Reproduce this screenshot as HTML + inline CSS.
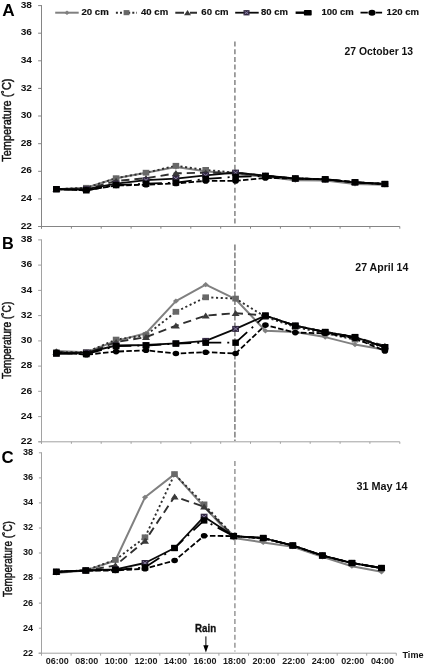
<!DOCTYPE html>
<html lang="en"><head><meta charset="utf-8"><title>Soil temperature profiles</title>
<style>html,body{margin:0;padding:0;background:#fff}body{width:425px;height:665px;overflow:hidden}svg{display:block;will-change:transform}text{font-family:"Liberation Sans",Arial,sans-serif}.b{font-weight:bold}.yl{font-weight:bold;fill:#111}.xl{font-size:9.6px;font-weight:bold;fill:#1a1a1a}.lg{font-size:8.5px;font-weight:bold;fill:#111;stroke:#111;stroke-width:0.15px}.dt{font-size:10.3px;font-weight:bold;fill:#111}.pl{font-weight:bold;fill:#000}.yt{font-size:12px;fill:#111;stroke:#111;stroke-width:0.45px}</style></head><body>
<svg width="425" height="665" viewBox="0 0 425 665">
<rect width="425" height="665" fill="#fff"/>
<g id="panelA">
<path d="M41.5 5.1V228.5" stroke="#858585" stroke-width="1" fill="none"/>
<path d="M38.5 226.5H399.8" stroke="#858585" stroke-width="1" fill="none"/>
<path d="M38.1 5.6H41.5M38.1 33.2H41.5M38.1 60.8H41.5M38.1 88.4H41.5M38.1 116.0H41.5M38.1 143.7H41.5M38.1 171.3H41.5M38.1 198.9H41.5M38.1 226.5H41.5" stroke="#858585" stroke-width="1" fill="none"/>
<path d="M41.5 226.5v2.2M71.4 226.5v2.2M101.2 226.5v2.2M131.1 226.5v2.2M160.9 226.5v2.2M190.8 226.5v2.2M220.7 226.5v2.2M250.5 226.5v2.2M280.4 226.5v2.2M310.2 226.5v2.2M340.1 226.5v2.2M369.9 226.5v2.2M399.8 226.5v2.2" stroke="#858585" stroke-width="1" fill="none"/>
<text class="yl" x="20.7" y="7.7" font-size="9.2" textLength="11.3" lengthAdjust="spacingAndGlyphs">38</text>
<text class="yl" x="20.7" y="35.3" font-size="9.2" textLength="11.3" lengthAdjust="spacingAndGlyphs">36</text>
<text class="yl" x="20.7" y="62.9" font-size="9.2" textLength="11.3" lengthAdjust="spacingAndGlyphs">34</text>
<text class="yl" x="20.7" y="90.5" font-size="9.2" textLength="11.3" lengthAdjust="spacingAndGlyphs">32</text>
<text class="yl" x="20.7" y="118.1" font-size="9.2" textLength="11.3" lengthAdjust="spacingAndGlyphs">30</text>
<text class="yl" x="20.7" y="145.8" font-size="9.2" textLength="11.3" lengthAdjust="spacingAndGlyphs">28</text>
<text class="yl" x="20.7" y="173.4" font-size="9.2" textLength="11.3" lengthAdjust="spacingAndGlyphs">26</text>
<text class="yl" x="20.7" y="201.0" font-size="9.2" textLength="11.3" lengthAdjust="spacingAndGlyphs">24</text>
<text class="yl" x="20.7" y="228.6" font-size="9.2" textLength="11.3" lengthAdjust="spacingAndGlyphs">22</text>
<text class="yt" transform="translate(11.3 161.7) rotate(-90)" textLength="83.2" lengthAdjust="spacingAndGlyphs">Temperature (˚C)</text>
<path d="M234.9 41.5V226" stroke="#8c8c8c" stroke-width="1.6" stroke-dasharray="5 2.7" fill="none"/>
<path d="M56.4 189.2L86.3 187.8L116.1 178.2L146.0 172.7L175.9 167.1L205.7 171.3L235.6 174.0L265.4 176.8L295.3 180.2L325.2 180.5L355.0 184.0L384.9 184.8" stroke="#808080" stroke-width="2.0" fill="none" stroke-linejoin="round"/>
<path d="M56.4 186.6L59.4 189.2L56.4 191.8L53.4 189.2Z" fill="#7f7f7f"/>
<path d="M86.3 185.2L89.3 187.8L86.3 190.4L83.3 187.8Z" fill="#7f7f7f"/>
<path d="M116.1 175.6L119.1 178.2L116.1 180.8L113.1 178.2Z" fill="#7f7f7f"/>
<path d="M146.0 170.1L149.0 172.7L146.0 175.3L143.0 172.7Z" fill="#7f7f7f"/>
<path d="M175.9 164.5L178.9 167.1L175.9 169.7L172.9 167.1Z" fill="#7f7f7f"/>
<path d="M205.7 168.7L208.7 171.3L205.7 173.9L202.7 171.3Z" fill="#7f7f7f"/>
<path d="M235.6 171.4L238.6 174.0L235.6 176.6L232.6 174.0Z" fill="#7f7f7f"/>
<path d="M265.4 174.2L268.4 176.8L265.4 179.4L262.4 176.8Z" fill="#7f7f7f"/>
<path d="M295.3 177.6L298.3 180.2L295.3 182.8L292.3 180.2Z" fill="#7f7f7f"/>
<path d="M325.2 177.9L328.2 180.5L325.2 183.1L322.2 180.5Z" fill="#7f7f7f"/>
<path d="M355.0 181.4L358.0 184.0L355.0 186.6L352.0 184.0Z" fill="#7f7f7f"/>
<path d="M384.9 182.2L387.9 184.8L384.9 187.4L381.9 184.8Z" fill="#7f7f7f"/>
<path d="M56.4 189.2L86.3 187.8L116.1 178.2L146.0 172.7L175.9 165.8L205.7 169.9L235.6 172.7L265.4 176.1L295.3 178.5L325.2 179.3L355.0 182.3L384.9 184.0" stroke="#2e2e2e" stroke-width="1.9" stroke-dasharray="2.1 2.6" fill="none" stroke-linejoin="round"/>
<rect x="53.1" y="186.3" width="6.6" height="5.8" fill="#686868"/>
<rect x="83.0" y="184.9" width="6.6" height="5.8" fill="#686868"/>
<rect x="112.8" y="175.3" width="6.6" height="5.8" fill="#686868"/>
<rect x="142.7" y="169.8" width="6.6" height="5.8" fill="#686868"/>
<rect x="172.6" y="162.9" width="6.6" height="5.8" fill="#686868"/>
<rect x="202.4" y="167.0" width="6.6" height="5.8" fill="#686868"/>
<rect x="232.3" y="169.8" width="6.6" height="5.8" fill="#686868"/>
<rect x="262.1" y="173.2" width="6.6" height="5.8" fill="#686868"/>
<rect x="292.0" y="175.6" width="6.6" height="5.8" fill="#686868"/>
<rect x="321.9" y="176.4" width="6.6" height="5.8" fill="#686868"/>
<rect x="351.7" y="179.4" width="6.6" height="5.8" fill="#686868"/>
<rect x="381.6" y="181.1" width="6.6" height="5.8" fill="#686868"/>
<path d="M56.4 189.2L86.3 189.2L116.1 180.9L146.0 178.2L175.9 173.3L205.7 172.7L235.6 172.7L265.4 175.7L295.3 178.5L325.2 179.3L355.0 182.3L384.9 184.0" stroke="#2f2f2f" stroke-width="1.9" stroke-dasharray="8.2 5" fill="none" stroke-linejoin="round"/>
<path d="M56.4 186.0L60.4 192.0L52.4 192.0Z" fill="#3a3a3a"/>
<path d="M86.3 186.0L90.3 192.0L82.3 192.0Z" fill="#3a3a3a"/>
<path d="M116.1 177.7L120.1 183.7L112.1 183.7Z" fill="#3a3a3a"/>
<path d="M146.0 175.0L150.0 181.0L142.0 181.0Z" fill="#3a3a3a"/>
<path d="M175.9 170.1L179.9 176.1L171.9 176.1Z" fill="#3a3a3a"/>
<path d="M205.7 169.5L209.7 175.5L201.7 175.5Z" fill="#3a3a3a"/>
<path d="M235.6 169.5L239.6 175.5L231.6 175.5Z" fill="#3a3a3a"/>
<path d="M265.4 172.5L269.4 178.5L261.4 178.5Z" fill="#3a3a3a"/>
<path d="M295.3 175.3L299.3 181.3L291.3 181.3Z" fill="#3a3a3a"/>
<path d="M325.2 176.1L329.2 182.1L321.2 182.1Z" fill="#3a3a3a"/>
<path d="M355.0 179.1L359.0 185.1L351.0 185.1Z" fill="#3a3a3a"/>
<path d="M384.9 180.8L388.9 186.8L380.9 186.8Z" fill="#3a3a3a"/>
<path d="M56.4 189.2L86.3 189.2L116.1 183.7L146.0 180.2L175.9 178.6L205.7 175.4L235.6 172.7L265.4 175.7L295.3 178.5L325.2 179.3L355.0 182.3L384.9 184.0" stroke="#0a0a0a" stroke-width="1.8" fill="none" stroke-linejoin="round"/>
<rect x="53.0" y="186.2" width="6.8" height="6.0" fill="#30263f"/><path d="M54.2 187.4L58.6 191.0M58.6 187.4L54.2 191.0" stroke="#8f86aa" stroke-width="0.9" fill="none"/>
<rect x="82.9" y="186.2" width="6.8" height="6.0" fill="#30263f"/><path d="M84.1 187.4L88.5 191.0M88.5 187.4L84.1 191.0" stroke="#8f86aa" stroke-width="0.9" fill="none"/>
<rect x="112.7" y="180.7" width="6.8" height="6.0" fill="#30263f"/><path d="M113.9 181.9L118.3 185.5M118.3 181.9L113.9 185.5" stroke="#8f86aa" stroke-width="0.9" fill="none"/>
<rect x="142.6" y="177.2" width="6.8" height="6.0" fill="#30263f"/><path d="M143.8 178.4L148.2 182.0M148.2 178.4L143.8 182.0" stroke="#8f86aa" stroke-width="0.9" fill="none"/>
<rect x="172.5" y="175.6" width="6.8" height="6.0" fill="#30263f"/><path d="M173.7 176.8L178.1 180.4M178.1 176.8L173.7 180.4" stroke="#8f86aa" stroke-width="0.9" fill="none"/>
<rect x="202.3" y="172.4" width="6.8" height="6.0" fill="#30263f"/><path d="M203.5 173.6L207.9 177.2M207.9 173.6L203.5 177.2" stroke="#8f86aa" stroke-width="0.9" fill="none"/>
<rect x="232.2" y="169.7" width="6.8" height="6.0" fill="#30263f"/><path d="M233.4 170.9L237.8 174.5M237.8 170.9L233.4 174.5" stroke="#8f86aa" stroke-width="0.9" fill="none"/>
<rect x="262.0" y="172.7" width="6.8" height="6.0" fill="#30263f"/><path d="M263.2 173.9L267.6 177.5M267.6 173.9L263.2 177.5" stroke="#8f86aa" stroke-width="0.9" fill="none"/>
<rect x="291.9" y="175.5" width="6.8" height="6.0" fill="#30263f"/><path d="M293.1 176.7L297.5 180.3M297.5 176.7L293.1 180.3" stroke="#8f86aa" stroke-width="0.9" fill="none"/>
<rect x="321.8" y="176.3" width="6.8" height="6.0" fill="#30263f"/><path d="M323.0 177.5L327.4 181.1M327.4 177.5L323.0 181.1" stroke="#8f86aa" stroke-width="0.9" fill="none"/>
<rect x="351.6" y="179.3" width="6.8" height="6.0" fill="#30263f"/><path d="M352.8 180.5L357.2 184.1M357.2 180.5L352.8 184.1" stroke="#8f86aa" stroke-width="0.9" fill="none"/>
<rect x="381.5" y="181.0" width="6.8" height="6.0" fill="#30263f"/><path d="M382.7 182.2L387.1 185.8M387.1 182.2L382.7 185.8" stroke="#8f86aa" stroke-width="0.9" fill="none"/>
<path d="M56.4 189.2L86.3 190.3L116.1 185.1L146.0 183.7L175.9 182.6L205.7 178.9L235.6 176.8L265.4 176.0L295.3 178.5L325.2 179.3L355.0 182.3L384.9 184.0" stroke="#000000" stroke-width="1.8" stroke-dasharray="16 6 2 6" fill="none" stroke-linejoin="round"/>
<rect x="53.1" y="186.0" width="6.6" height="6.4" fill="#000"/>
<rect x="83.0" y="187.1" width="6.6" height="6.4" fill="#000"/>
<rect x="112.8" y="181.9" width="6.6" height="6.4" fill="#000"/>
<rect x="142.7" y="180.5" width="6.6" height="6.4" fill="#000"/>
<rect x="172.6" y="179.4" width="6.6" height="6.4" fill="#000"/>
<rect x="202.4" y="175.7" width="6.6" height="6.4" fill="#000"/>
<rect x="232.3" y="173.6" width="6.6" height="6.4" fill="#000"/>
<rect x="262.1" y="172.8" width="6.6" height="6.4" fill="#000"/>
<rect x="292.0" y="175.3" width="6.6" height="6.4" fill="#000"/>
<rect x="321.9" y="176.1" width="6.6" height="6.4" fill="#000"/>
<rect x="351.7" y="179.1" width="6.6" height="6.4" fill="#000"/>
<rect x="381.6" y="180.8" width="6.6" height="6.4" fill="#000"/>
<path d="M56.4 189.2L86.3 190.3L116.1 185.5L146.0 184.7L175.9 183.4L205.7 180.9L235.6 180.9L265.4 177.9L295.3 178.5L325.2 179.3L355.0 182.3L384.9 184.0" stroke="#000000" stroke-width="1.8" stroke-dasharray="5.5 2.3" fill="none" stroke-linejoin="round"/>
<ellipse cx="56.4" cy="189.2" rx="3.3" ry="2.8" fill="#000"/>
<ellipse cx="86.3" cy="190.3" rx="3.3" ry="2.8" fill="#000"/>
<ellipse cx="116.1" cy="185.5" rx="3.3" ry="2.8" fill="#000"/>
<ellipse cx="146.0" cy="184.7" rx="3.3" ry="2.8" fill="#000"/>
<ellipse cx="175.9" cy="183.4" rx="3.3" ry="2.8" fill="#000"/>
<ellipse cx="205.7" cy="180.9" rx="3.3" ry="2.8" fill="#000"/>
<ellipse cx="235.6" cy="180.9" rx="3.3" ry="2.8" fill="#000"/>
<ellipse cx="265.4" cy="177.9" rx="3.3" ry="2.8" fill="#000"/>
<ellipse cx="295.3" cy="178.5" rx="3.3" ry="2.8" fill="#000"/>
<ellipse cx="325.2" cy="179.3" rx="3.3" ry="2.8" fill="#000"/>
<ellipse cx="355.0" cy="182.3" rx="3.3" ry="2.8" fill="#000"/>
<ellipse cx="384.9" cy="184.0" rx="3.3" ry="2.8" fill="#000"/>
<text class="dt" x="344.5" y="54.7" textLength="68.6" lengthAdjust="spacingAndGlyphs">27 October 13</text>
<text class="pl" x="2.2" y="16.0" font-size="17.2">A</text>
</g>
<g id="panelB">
<path d="M41.5 239.4V443.8" stroke="#a2a2a2" stroke-width="1" fill="none"/>
<path d="M38.5 441.8H399.8" stroke="#a2a2a2" stroke-width="1" fill="none"/>
<path d="M38.1 239.9H41.5M38.1 265.1H41.5M38.1 290.4H41.5M38.1 315.6H41.5M38.1 340.9H41.5M38.1 366.1H41.5M38.1 391.3H41.5M38.1 416.6H41.5M38.1 441.8H41.5" stroke="#a2a2a2" stroke-width="1" fill="none"/>
<path d="M41.5 441.8v2M71.4 441.8v2M101.2 441.8v2M131.1 441.8v2M160.9 441.8v2M190.8 441.8v2M220.7 441.8v2M250.5 441.8v2M280.4 441.8v2M310.2 441.8v2M340.1 441.8v2M369.9 441.8v2M399.8 441.8v2" stroke="#a2a2a2" stroke-width="1" fill="none"/>
<text class="yl" x="20.7" y="242.2" font-size="8.8" textLength="11.5" lengthAdjust="spacingAndGlyphs">38</text>
<text class="yl" x="20.7" y="267.4" font-size="8.8" textLength="11.5" lengthAdjust="spacingAndGlyphs">36</text>
<text class="yl" x="20.7" y="292.6" font-size="8.8" textLength="11.5" lengthAdjust="spacingAndGlyphs">34</text>
<text class="yl" x="20.7" y="317.9" font-size="8.8" textLength="11.5" lengthAdjust="spacingAndGlyphs">32</text>
<text class="yl" x="20.7" y="343.1" font-size="8.8" textLength="11.5" lengthAdjust="spacingAndGlyphs">30</text>
<text class="yl" x="20.7" y="368.3" font-size="8.8" textLength="11.5" lengthAdjust="spacingAndGlyphs">28</text>
<text class="yl" x="20.7" y="393.6" font-size="8.8" textLength="11.5" lengthAdjust="spacingAndGlyphs">26</text>
<text class="yl" x="20.7" y="418.8" font-size="8.8" textLength="11.5" lengthAdjust="spacingAndGlyphs">24</text>
<text class="yl" x="20.7" y="444.1" font-size="8.8" textLength="11.5" lengthAdjust="spacingAndGlyphs">22</text>
<text class="yt" transform="translate(10.9 378.9) rotate(-90)" textLength="77.2" lengthAdjust="spacingAndGlyphs">Temperature (˚C)</text>
<path d="M234.9 244.6V441" stroke="#7c7c7c" stroke-width="1.5" stroke-dasharray="5.8 2" fill="none"/>
<path d="M56.4 350.9L86.3 352.2L116.1 340.9L146.0 333.3L175.9 301.1L205.7 284.7L235.6 299.2L265.4 330.8L295.3 332.0L325.2 337.1L355.0 344.6L384.9 349.7" stroke="#808080" stroke-width="2.0" fill="none" stroke-linejoin="round"/>
<path d="M56.4 348.3L59.4 350.9L56.4 353.5L53.4 350.9Z" fill="#7f7f7f"/>
<path d="M86.3 349.6L89.3 352.2L86.3 354.8L83.3 352.2Z" fill="#7f7f7f"/>
<path d="M116.1 338.2L119.1 340.9L116.1 343.5L113.1 340.9Z" fill="#7f7f7f"/>
<path d="M146.0 330.7L149.0 333.3L146.0 335.9L143.0 333.3Z" fill="#7f7f7f"/>
<path d="M175.9 298.5L178.9 301.1L175.9 303.7L172.9 301.1Z" fill="#7f7f7f"/>
<path d="M205.7 282.1L208.7 284.7L205.7 287.3L202.7 284.7Z" fill="#7f7f7f"/>
<path d="M235.6 296.6L238.6 299.2L235.6 301.8L232.6 299.2Z" fill="#7f7f7f"/>
<path d="M265.4 328.2L268.4 330.8L265.4 333.4L262.4 330.8Z" fill="#7f7f7f"/>
<path d="M295.3 329.4L298.3 332.0L295.3 334.6L292.3 332.0Z" fill="#7f7f7f"/>
<path d="M325.2 334.5L328.2 337.1L325.2 339.7L322.2 337.1Z" fill="#7f7f7f"/>
<path d="M355.0 342.0L358.0 344.6L355.0 347.2L352.0 344.6Z" fill="#7f7f7f"/>
<path d="M384.9 347.1L387.9 349.7L384.9 352.3L381.9 349.7Z" fill="#7f7f7f"/>
<path d="M56.4 352.2L86.3 352.2L116.1 339.6L146.0 335.2L175.9 311.8L205.7 297.3L235.6 298.6L265.4 316.9L295.3 327.0L325.2 333.3L355.0 339.6L384.9 347.2" stroke="#2e2e2e" stroke-width="1.9" stroke-dasharray="2.1 2.6" fill="none" stroke-linejoin="round"/>
<rect x="53.1" y="349.3" width="6.6" height="5.8" fill="#686868"/>
<rect x="83.0" y="349.3" width="6.6" height="5.8" fill="#686868"/>
<rect x="112.8" y="336.7" width="6.6" height="5.8" fill="#686868"/>
<rect x="142.7" y="332.3" width="6.6" height="5.8" fill="#686868"/>
<rect x="172.6" y="308.9" width="6.6" height="5.8" fill="#686868"/>
<rect x="202.4" y="294.4" width="6.6" height="5.8" fill="#686868"/>
<rect x="232.3" y="295.7" width="6.6" height="5.8" fill="#686868"/>
<rect x="262.1" y="314.0" width="6.6" height="5.8" fill="#686868"/>
<rect x="292.0" y="324.1" width="6.6" height="5.8" fill="#686868"/>
<rect x="321.9" y="330.4" width="6.6" height="5.8" fill="#686868"/>
<rect x="351.7" y="336.7" width="6.6" height="5.8" fill="#686868"/>
<rect x="381.6" y="344.3" width="6.6" height="5.8" fill="#686868"/>
<path d="M56.4 352.2L86.3 353.5L116.1 342.1L146.0 337.1L175.9 325.7L205.7 315.6L235.6 313.1L265.4 315.6L295.3 325.7L325.2 332.0L355.0 337.1L384.9 345.9" stroke="#2f2f2f" stroke-width="1.9" stroke-dasharray="8.2 5" fill="none" stroke-linejoin="round"/>
<path d="M56.4 349.0L60.4 355.0L52.4 355.0Z" fill="#3a3a3a"/>
<path d="M86.3 350.3L90.3 356.3L82.3 356.3Z" fill="#3a3a3a"/>
<path d="M116.1 338.9L120.1 344.9L112.1 344.9Z" fill="#3a3a3a"/>
<path d="M146.0 333.9L150.0 339.9L142.0 339.9Z" fill="#3a3a3a"/>
<path d="M175.9 322.5L179.9 328.5L171.9 328.5Z" fill="#3a3a3a"/>
<path d="M205.7 312.4L209.7 318.4L201.7 318.4Z" fill="#3a3a3a"/>
<path d="M235.6 309.9L239.6 315.9L231.6 315.9Z" fill="#3a3a3a"/>
<path d="M265.4 312.4L269.4 318.4L261.4 318.4Z" fill="#3a3a3a"/>
<path d="M295.3 322.5L299.3 328.5L291.3 328.5Z" fill="#3a3a3a"/>
<path d="M325.2 328.8L329.2 334.8L321.2 334.8Z" fill="#3a3a3a"/>
<path d="M355.0 333.9L359.0 339.9L351.0 339.9Z" fill="#3a3a3a"/>
<path d="M384.9 342.7L388.9 348.7L380.9 348.7Z" fill="#3a3a3a"/>
<path d="M56.4 353.5L86.3 352.6L116.1 345.5L146.0 345.0L175.9 343.4L205.7 340.9L235.6 328.9L265.4 315.6L295.3 325.7L325.2 332.0L355.0 337.1L384.9 347.2" stroke="#0a0a0a" stroke-width="1.8" fill="none" stroke-linejoin="round"/>
<rect x="53.0" y="350.5" width="6.8" height="6.0" fill="#30263f"/><path d="M54.2 351.7L58.6 355.3M58.6 351.7L54.2 355.3" stroke="#8f86aa" stroke-width="0.9" fill="none"/>
<rect x="82.9" y="349.6" width="6.8" height="6.0" fill="#30263f"/><path d="M84.1 350.8L88.5 354.4M88.5 350.8L84.1 354.4" stroke="#8f86aa" stroke-width="0.9" fill="none"/>
<rect x="112.7" y="342.5" width="6.8" height="6.0" fill="#30263f"/><path d="M113.9 343.7L118.3 347.3M118.3 343.7L113.9 347.3" stroke="#8f86aa" stroke-width="0.9" fill="none"/>
<rect x="142.6" y="342.0" width="6.8" height="6.0" fill="#30263f"/><path d="M143.8 343.2L148.2 346.8M148.2 343.2L143.8 346.8" stroke="#8f86aa" stroke-width="0.9" fill="none"/>
<rect x="172.5" y="340.4" width="6.8" height="6.0" fill="#30263f"/><path d="M173.7 341.6L178.1 345.2M178.1 341.6L173.7 345.2" stroke="#8f86aa" stroke-width="0.9" fill="none"/>
<rect x="202.3" y="337.9" width="6.8" height="6.0" fill="#30263f"/><path d="M203.5 339.1L207.9 342.7M207.9 339.1L203.5 342.7" stroke="#8f86aa" stroke-width="0.9" fill="none"/>
<rect x="232.2" y="325.9" width="6.8" height="6.0" fill="#30263f"/><path d="M233.4 327.1L237.8 330.7M237.8 327.1L233.4 330.7" stroke="#8f86aa" stroke-width="0.9" fill="none"/>
<rect x="262.0" y="312.6" width="6.8" height="6.0" fill="#30263f"/><path d="M263.2 313.8L267.6 317.4M267.6 313.8L263.2 317.4" stroke="#8f86aa" stroke-width="0.9" fill="none"/>
<rect x="291.9" y="322.7" width="6.8" height="6.0" fill="#30263f"/><path d="M293.1 323.9L297.5 327.5M297.5 323.9L293.1 327.5" stroke="#8f86aa" stroke-width="0.9" fill="none"/>
<rect x="321.8" y="329.0" width="6.8" height="6.0" fill="#30263f"/><path d="M323.0 330.2L327.4 333.8M327.4 330.2L323.0 333.8" stroke="#8f86aa" stroke-width="0.9" fill="none"/>
<rect x="351.6" y="334.1" width="6.8" height="6.0" fill="#30263f"/><path d="M352.8 335.3L357.2 338.9M357.2 335.3L352.8 338.9" stroke="#8f86aa" stroke-width="0.9" fill="none"/>
<rect x="381.5" y="344.2" width="6.8" height="6.0" fill="#30263f"/><path d="M382.7 345.4L387.1 349.0M387.1 345.4L382.7 349.0" stroke="#8f86aa" stroke-width="0.9" fill="none"/>
<path d="M56.4 353.5L86.3 354.1L116.1 346.1L146.0 345.5L175.9 343.6L205.7 342.7L235.6 342.7L265.4 315.6L295.3 325.7L325.2 332.0L355.0 337.1L384.9 347.2" stroke="#000000" stroke-width="1.8" stroke-dasharray="16 6 2 6" fill="none" stroke-linejoin="round"/>
<rect x="53.1" y="350.3" width="6.6" height="6.4" fill="#000"/>
<rect x="83.0" y="350.9" width="6.6" height="6.4" fill="#000"/>
<rect x="112.8" y="342.9" width="6.6" height="6.4" fill="#000"/>
<rect x="142.7" y="342.3" width="6.6" height="6.4" fill="#000"/>
<rect x="172.6" y="340.4" width="6.6" height="6.4" fill="#000"/>
<rect x="202.4" y="339.5" width="6.6" height="6.4" fill="#000"/>
<rect x="232.3" y="339.5" width="6.6" height="6.4" fill="#000"/>
<rect x="262.1" y="312.4" width="6.6" height="6.4" fill="#000"/>
<rect x="292.0" y="322.5" width="6.6" height="6.4" fill="#000"/>
<rect x="321.9" y="328.8" width="6.6" height="6.4" fill="#000"/>
<rect x="351.7" y="333.9" width="6.6" height="6.4" fill="#000"/>
<rect x="381.6" y="344.0" width="6.6" height="6.4" fill="#000"/>
<path d="M56.4 352.2L86.3 354.7L116.1 351.6L146.0 350.3L175.9 353.5L205.7 352.2L235.6 353.5L265.4 325.1L295.3 332.6L325.2 333.3L355.0 338.3L384.9 350.9" stroke="#000000" stroke-width="1.8" stroke-dasharray="5.5 2.3" fill="none" stroke-linejoin="round"/>
<ellipse cx="56.4" cy="352.2" rx="3.3" ry="2.8" fill="#000"/>
<ellipse cx="86.3" cy="354.7" rx="3.3" ry="2.8" fill="#000"/>
<ellipse cx="116.1" cy="351.6" rx="3.3" ry="2.8" fill="#000"/>
<ellipse cx="146.0" cy="350.3" rx="3.3" ry="2.8" fill="#000"/>
<ellipse cx="175.9" cy="353.5" rx="3.3" ry="2.8" fill="#000"/>
<ellipse cx="205.7" cy="352.2" rx="3.3" ry="2.8" fill="#000"/>
<ellipse cx="235.6" cy="353.5" rx="3.3" ry="2.8" fill="#000"/>
<ellipse cx="265.4" cy="325.1" rx="3.3" ry="2.8" fill="#000"/>
<ellipse cx="295.3" cy="332.6" rx="3.3" ry="2.8" fill="#000"/>
<ellipse cx="325.2" cy="333.3" rx="3.3" ry="2.8" fill="#000"/>
<ellipse cx="355.0" cy="338.3" rx="3.3" ry="2.8" fill="#000"/>
<ellipse cx="384.9" cy="350.9" rx="3.3" ry="2.8" fill="#000"/>
<text class="dt" x="355.3" y="270.6" textLength="53" lengthAdjust="spacingAndGlyphs">27 April 14</text>
<text class="pl" x="2.0" y="248.7" font-size="16.3">B</text>
</g>
<g id="panelC">
<path d="M41.5 452.3V655.2" stroke="#a2a2a2" stroke-width="1" fill="none"/>
<path d="M38.5 653.2H396.3" stroke="#a2a2a2" stroke-width="1" fill="none"/>
<path d="M38.9 452.8H41.5M38.9 477.9H41.5M38.9 502.9H41.5M38.9 528.0H41.5M38.9 553.0H41.5M38.9 578.1H41.5M38.9 603.1H41.5M38.9 628.2H41.5M38.9 653.2H41.5" stroke="#a2a2a2" stroke-width="1" fill="none"/>
<path d="M41.5 653.2v2.5M71.1 653.2v2.5M100.6 653.2v2.5M130.2 653.2v2.5M159.8 653.2v2.5M189.3 653.2v2.5M218.9 653.2v2.5M248.5 653.2v2.5M278.0 653.2v2.5M307.6 653.2v2.5M337.2 653.2v2.5M366.7 653.2v2.5M396.3 653.2v2.5" stroke="#a2a2a2" stroke-width="1" fill="none"/>
<text class="yl" x="22.9" y="455.2" font-size="8.3" textLength="10.1" lengthAdjust="spacingAndGlyphs">38</text>
<text class="yl" x="22.9" y="480.2" font-size="8.3" textLength="10.1" lengthAdjust="spacingAndGlyphs">36</text>
<text class="yl" x="22.9" y="505.3" font-size="8.3" textLength="10.1" lengthAdjust="spacingAndGlyphs">34</text>
<text class="yl" x="22.9" y="530.3" font-size="8.3" textLength="10.1" lengthAdjust="spacingAndGlyphs">32</text>
<text class="yl" x="22.9" y="555.4" font-size="8.3" textLength="10.1" lengthAdjust="spacingAndGlyphs">30</text>
<text class="yl" x="22.9" y="580.4" font-size="8.3" textLength="10.1" lengthAdjust="spacingAndGlyphs">28</text>
<text class="yl" x="22.9" y="605.5" font-size="8.3" textLength="10.1" lengthAdjust="spacingAndGlyphs">26</text>
<text class="yl" x="22.9" y="630.5" font-size="8.3" textLength="10.1" lengthAdjust="spacingAndGlyphs">24</text>
<text class="yl" x="22.9" y="655.6" font-size="8.3" textLength="10.1" lengthAdjust="spacingAndGlyphs">22</text>
<text class="yt" transform="translate(12.3 597.0) rotate(-90)" textLength="75.9" lengthAdjust="spacingAndGlyphs">Temperature (˚C)</text>
<path d="M234.9 461V651.5" stroke="#8f8f8f" stroke-width="1.4" stroke-dasharray="5 2.9" fill="none"/>
<path d="M56.3 573.0L85.8 570.5L115.4 560.5L145.0 497.3L174.6 474.1L204.1 506.9L233.7 538.0L263.2 542.4L292.8 546.7L322.4 556.8L351.9 566.2L381.5 571.8" stroke="#808080" stroke-width="2.0" fill="none" stroke-linejoin="round"/>
<path d="M56.3 570.4L59.3 573.0L56.3 575.6L53.3 573.0Z" fill="#7f7f7f"/>
<path d="M85.8 567.9L88.8 570.5L85.8 573.1L82.8 570.5Z" fill="#7f7f7f"/>
<path d="M115.4 557.9L118.4 560.5L115.4 563.1L112.4 560.5Z" fill="#7f7f7f"/>
<path d="M145.0 494.7L148.0 497.3L145.0 499.9L142.0 497.3Z" fill="#7f7f7f"/>
<path d="M174.6 471.5L177.6 474.1L174.6 476.7L171.6 474.1Z" fill="#7f7f7f"/>
<path d="M204.1 504.3L207.1 506.9L204.1 509.5L201.1 506.9Z" fill="#7f7f7f"/>
<path d="M233.7 535.4L236.7 538.0L233.7 540.6L230.7 538.0Z" fill="#7f7f7f"/>
<path d="M263.2 539.8L266.2 542.4L263.2 545.0L260.2 542.4Z" fill="#7f7f7f"/>
<path d="M292.8 544.1L295.8 546.7L292.8 549.3L289.8 546.7Z" fill="#7f7f7f"/>
<path d="M322.4 554.2L325.4 556.8L322.4 559.4L319.4 556.8Z" fill="#7f7f7f"/>
<path d="M351.9 563.6L354.9 566.2L351.9 568.8L348.9 566.2Z" fill="#7f7f7f"/>
<path d="M381.5 569.2L384.5 571.8L381.5 574.4L378.5 571.8Z" fill="#7f7f7f"/>
<path d="M56.3 571.8L85.8 570.3L115.4 559.9L145.0 537.3L174.6 474.1L204.1 504.4L233.7 536.1L263.2 538.6L292.8 545.5L322.4 555.8L351.9 563.0L381.5 568.3" stroke="#2e2e2e" stroke-width="1.9" stroke-dasharray="2.1 2.6" fill="none" stroke-linejoin="round"/>
<rect x="53.0" y="568.9" width="6.6" height="5.8" fill="#686868"/>
<rect x="82.5" y="567.4" width="6.6" height="5.8" fill="#686868"/>
<rect x="112.1" y="557.0" width="6.6" height="5.8" fill="#686868"/>
<rect x="141.7" y="534.4" width="6.6" height="5.8" fill="#686868"/>
<rect x="171.2" y="471.2" width="6.6" height="5.8" fill="#686868"/>
<rect x="200.8" y="501.5" width="6.6" height="5.8" fill="#686868"/>
<rect x="230.4" y="533.2" width="6.6" height="5.8" fill="#686868"/>
<rect x="259.9" y="535.7" width="6.6" height="5.8" fill="#686868"/>
<rect x="289.5" y="542.6" width="6.6" height="5.8" fill="#686868"/>
<rect x="319.1" y="552.9" width="6.6" height="5.8" fill="#686868"/>
<rect x="348.6" y="560.1" width="6.6" height="5.8" fill="#686868"/>
<rect x="378.2" y="565.4" width="6.6" height="5.8" fill="#686868"/>
<path d="M56.3 571.8L85.8 570.5L115.4 565.5L145.0 540.9L174.6 496.6L204.1 506.7L233.7 536.1L263.2 538.2L292.8 545.5L322.4 555.5L351.9 563.0L381.5 568.0" stroke="#2f2f2f" stroke-width="1.9" stroke-dasharray="8.2 5" fill="none" stroke-linejoin="round"/>
<path d="M56.3 568.6L60.3 574.6L52.3 574.6Z" fill="#3a3a3a"/>
<path d="M85.8 567.3L89.8 573.3L81.8 573.3Z" fill="#3a3a3a"/>
<path d="M115.4 562.3L119.4 568.3L111.4 568.3Z" fill="#3a3a3a"/>
<path d="M145.0 537.7L149.0 543.7L141.0 543.7Z" fill="#3a3a3a"/>
<path d="M174.6 493.4L178.6 499.4L170.6 499.4Z" fill="#3a3a3a"/>
<path d="M204.1 503.5L208.1 509.5L200.1 509.5Z" fill="#3a3a3a"/>
<path d="M233.7 532.9L237.7 538.9L229.7 538.9Z" fill="#3a3a3a"/>
<path d="M263.2 535.0L267.2 541.0L259.2 541.0Z" fill="#3a3a3a"/>
<path d="M292.8 542.3L296.8 548.3L288.8 548.3Z" fill="#3a3a3a"/>
<path d="M322.4 552.3L326.4 558.3L318.4 558.3Z" fill="#3a3a3a"/>
<path d="M351.9 559.8L355.9 565.8L347.9 565.8Z" fill="#3a3a3a"/>
<path d="M381.5 564.8L385.5 570.8L377.5 570.8Z" fill="#3a3a3a"/>
<path d="M56.3 571.8L85.8 570.5L115.4 569.3L145.0 563.0L174.6 548.0L204.1 516.7L233.7 536.1L263.2 538.0L292.8 545.5L322.4 555.5L351.9 563.0L381.5 568.0" stroke="#0a0a0a" stroke-width="1.8" fill="none" stroke-linejoin="round"/>
<rect x="52.9" y="568.8" width="6.8" height="6.0" fill="#30263f"/><path d="M54.1 570.0L58.5 573.6M58.5 570.0L54.1 573.6" stroke="#8f86aa" stroke-width="0.9" fill="none"/>
<rect x="82.4" y="567.5" width="6.8" height="6.0" fill="#30263f"/><path d="M83.6 568.7L88.0 572.3M88.0 568.7L83.6 572.3" stroke="#8f86aa" stroke-width="0.9" fill="none"/>
<rect x="112.0" y="566.3" width="6.8" height="6.0" fill="#30263f"/><path d="M113.2 567.5L117.6 571.1M117.6 567.5L113.2 571.1" stroke="#8f86aa" stroke-width="0.9" fill="none"/>
<rect x="141.6" y="560.0" width="6.8" height="6.0" fill="#30263f"/><path d="M142.8 561.2L147.2 564.8M147.2 561.2L142.8 564.8" stroke="#8f86aa" stroke-width="0.9" fill="none"/>
<rect x="171.2" y="545.0" width="6.8" height="6.0" fill="#30263f"/><path d="M172.3 546.2L176.8 549.8M176.8 546.2L172.3 549.8" stroke="#8f86aa" stroke-width="0.9" fill="none"/>
<rect x="200.7" y="513.7" width="6.8" height="6.0" fill="#30263f"/><path d="M201.9 514.9L206.3 518.5M206.3 514.9L201.9 518.5" stroke="#8f86aa" stroke-width="0.9" fill="none"/>
<rect x="230.3" y="533.1" width="6.8" height="6.0" fill="#30263f"/><path d="M231.5 534.3L235.9 537.9M235.9 534.3L231.5 537.9" stroke="#8f86aa" stroke-width="0.9" fill="none"/>
<rect x="259.9" y="535.0" width="6.8" height="6.0" fill="#30263f"/><path d="M261.1 536.2L265.4 539.8M265.4 536.2L261.1 539.8" stroke="#8f86aa" stroke-width="0.9" fill="none"/>
<rect x="289.4" y="542.5" width="6.8" height="6.0" fill="#30263f"/><path d="M290.6 543.7L295.0 547.3M295.0 543.7L290.6 547.3" stroke="#8f86aa" stroke-width="0.9" fill="none"/>
<rect x="319.0" y="552.5" width="6.8" height="6.0" fill="#30263f"/><path d="M320.2 553.7L324.6 557.3M324.6 553.7L320.2 557.3" stroke="#8f86aa" stroke-width="0.9" fill="none"/>
<rect x="348.6" y="560.0" width="6.8" height="6.0" fill="#30263f"/><path d="M349.8 561.2L354.1 564.8M354.1 561.2L349.8 564.8" stroke="#8f86aa" stroke-width="0.9" fill="none"/>
<rect x="378.1" y="565.0" width="6.8" height="6.0" fill="#30263f"/><path d="M379.3 566.2L383.7 569.8M383.7 566.2L379.3 569.8" stroke="#8f86aa" stroke-width="0.9" fill="none"/>
<path d="M56.3 571.8L85.8 570.5L115.4 569.9L145.0 567.4L174.6 548.0L204.1 520.4L233.7 536.1L263.2 538.0L292.8 545.5L322.4 555.5L351.9 563.0L381.5 568.0" stroke="#000000" stroke-width="1.8" stroke-dasharray="16 6 2 6" fill="none" stroke-linejoin="round"/>
<rect x="53.0" y="568.6" width="6.6" height="6.4" fill="#000"/>
<rect x="82.5" y="567.3" width="6.6" height="6.4" fill="#000"/>
<rect x="112.1" y="566.7" width="6.6" height="6.4" fill="#000"/>
<rect x="141.7" y="564.2" width="6.6" height="6.4" fill="#000"/>
<rect x="171.2" y="544.8" width="6.6" height="6.4" fill="#000"/>
<rect x="200.8" y="517.2" width="6.6" height="6.4" fill="#000"/>
<rect x="230.4" y="532.9" width="6.6" height="6.4" fill="#000"/>
<rect x="259.9" y="534.8" width="6.6" height="6.4" fill="#000"/>
<rect x="289.5" y="542.3" width="6.6" height="6.4" fill="#000"/>
<rect x="319.1" y="552.3" width="6.6" height="6.4" fill="#000"/>
<rect x="348.6" y="559.8" width="6.6" height="6.4" fill="#000"/>
<rect x="378.2" y="564.8" width="6.6" height="6.4" fill="#000"/>
<path d="M56.3 571.8L85.8 570.5L115.4 570.5L145.0 568.7L174.6 560.5L204.1 535.8L233.7 536.1L263.2 538.0L292.8 545.5L322.4 555.5L351.9 563.0L381.5 568.0" stroke="#000000" stroke-width="1.8" stroke-dasharray="5.5 2.3" fill="none" stroke-linejoin="round"/>
<ellipse cx="56.3" cy="571.8" rx="3.3" ry="2.8" fill="#000"/>
<ellipse cx="85.8" cy="570.5" rx="3.3" ry="2.8" fill="#000"/>
<ellipse cx="115.4" cy="570.5" rx="3.3" ry="2.8" fill="#000"/>
<ellipse cx="145.0" cy="568.7" rx="3.3" ry="2.8" fill="#000"/>
<ellipse cx="174.6" cy="560.5" rx="3.3" ry="2.8" fill="#000"/>
<ellipse cx="204.1" cy="535.8" rx="3.3" ry="2.8" fill="#000"/>
<ellipse cx="233.7" cy="536.1" rx="3.3" ry="2.8" fill="#000"/>
<ellipse cx="263.2" cy="538.0" rx="3.3" ry="2.8" fill="#000"/>
<ellipse cx="292.8" cy="545.5" rx="3.3" ry="2.8" fill="#000"/>
<ellipse cx="322.4" cy="555.5" rx="3.3" ry="2.8" fill="#000"/>
<ellipse cx="351.9" cy="563.0" rx="3.3" ry="2.8" fill="#000"/>
<ellipse cx="381.5" cy="568.0" rx="3.3" ry="2.8" fill="#000"/>
<text class="dt" x="356.4" y="490.1" textLength="51.2" lengthAdjust="spacingAndGlyphs">31 May 14</text>
<text class="pl" x="1.6" y="462.5" font-size="16.8">C</text>
</g>
<g id="legend">
<path d="M55.2 12.7H78.7" stroke="#808080" stroke-width="2.0" fill="none"/>
<path d="M67.0 10.4L69.6 12.7L67.0 15.0L64.4 12.7Z" fill="#7f7f7f"/>
<text class="lg" x="81.4" y="15.0" textLength="27.4" lengthAdjust="spacingAndGlyphs">20 cm</text>
<path d="M115.9 12.7H137.0" stroke="#2e2e2e" stroke-width="1.9" stroke-dasharray="2 2.1" fill="none"/>
<rect x="123.6" y="10.1" width="5.8" height="5.1" fill="#686868"/>
<text class="lg" x="141.0" y="15.0" textLength="27.2" lengthAdjust="spacingAndGlyphs">40 cm</text>
<path d="M175.3 12.7H197.0" stroke="#2f2f2f" stroke-width="1.9" stroke-dasharray="8.7 6 7 0" fill="none"/>
<path d="M187.5 9.9L191.0 15.2L184.0 15.2Z" fill="#3a3a3a"/>
<text class="lg" x="201.3" y="15.0" textLength="27.2" lengthAdjust="spacingAndGlyphs">60 cm</text>
<path d="M235.2 12.7H258.7" stroke="#0a0a0a" stroke-width="1.8" fill="none"/>
<rect x="243.5" y="10.1" width="6.0" height="5.3" fill="#30263f"/><path d="M244.7 11.3L248.3 14.1M248.3 11.3L244.7 14.1" stroke="#8f86aa" stroke-width="0.9" fill="none"/>
<text class="lg" x="261.0" y="15.0" textLength="27.0" lengthAdjust="spacingAndGlyphs">80 cm</text>
<path d="M295.6 12.7H318.0" stroke="#000000" stroke-width="2.4" stroke-dasharray="13 20" fill="none"/>
<rect x="303.9" y="9.9" width="7.8" height="5.6" rx="0.8" fill="#000"/>
<text class="lg" x="321.5" y="15.0" textLength="32.3" lengthAdjust="spacingAndGlyphs">100 cm</text>
<path d="M360.5 12.7H382.1" stroke="#000000" stroke-width="1.8" stroke-dasharray="7.3 8 6.3 0" fill="none"/>
<ellipse cx="372.0" cy="12.7" rx="3.6" ry="3.0" fill="#000"/>
<text class="lg" x="386.6" y="15.0" textLength="32.4" lengthAdjust="spacingAndGlyphs">120 cm</text>
</g>
<g id="xlabels">
<text class="xl" x="45.7" y="663.5" textLength="23" lengthAdjust="spacingAndGlyphs">06:00</text>
<text class="xl" x="75.2" y="663.5" textLength="23" lengthAdjust="spacingAndGlyphs">08:00</text>
<text class="xl" x="104.8" y="663.5" textLength="23" lengthAdjust="spacingAndGlyphs">10:00</text>
<text class="xl" x="134.4" y="663.5" textLength="23" lengthAdjust="spacingAndGlyphs">12:00</text>
<text class="xl" x="164.0" y="663.5" textLength="23" lengthAdjust="spacingAndGlyphs">14:00</text>
<text class="xl" x="193.5" y="663.5" textLength="23" lengthAdjust="spacingAndGlyphs">16:00</text>
<text class="xl" x="223.1" y="663.5" textLength="23" lengthAdjust="spacingAndGlyphs">18:00</text>
<text class="xl" x="252.6" y="663.5" textLength="23" lengthAdjust="spacingAndGlyphs">20:00</text>
<text class="xl" x="282.2" y="663.5" textLength="23" lengthAdjust="spacingAndGlyphs">22:00</text>
<text class="xl" x="311.8" y="663.5" textLength="23" lengthAdjust="spacingAndGlyphs">24:00</text>
<text class="xl" x="341.3" y="663.5" textLength="23" lengthAdjust="spacingAndGlyphs">02:00</text>
<text class="xl" x="370.9" y="663.5" textLength="23" lengthAdjust="spacingAndGlyphs">04:00</text>
<text class="xl" x="402.5" y="658.1" textLength="21" lengthAdjust="spacingAndGlyphs" style="font-size:9.3px;fill:#111">Time</text>
</g>
<g id="rain">
<text class="b" x="195.1" y="632" font-size="10.4" textLength="21.1" lengthAdjust="spacingAndGlyphs" fill="#111" stroke="#111" stroke-width="0.3">Rain</text>
<path d="M205.9 636.4V646" stroke="#000" stroke-width="1" fill="none"/>
<path d="M203.3 645.2H208.5L205.9 652.4Z" fill="#000"/>
</g>
</svg></body></html>
